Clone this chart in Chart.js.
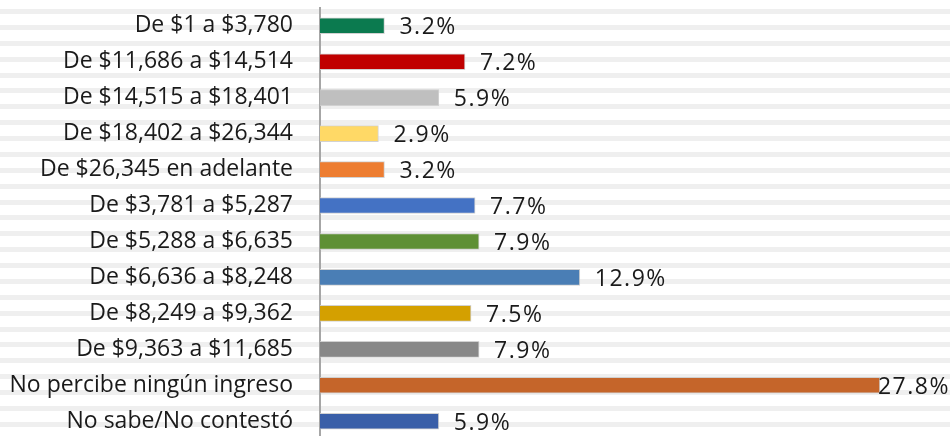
<!DOCTYPE html>
<html>
<head>
<meta charset="utf-8">
<script src="https://cdn.jsdelivr.net/npm/chart.js"></script>
<style>
  html, body { margin: 0; padding: 0; background: #fff; overflow: hidden; height: 436px; }
  #wrap { width: 950px; height: 459px; margin-top: -6px; position: relative; }
</style>
</head>
<body>
<div id="wrap"><canvas id="ingresoChart" width="950" height="459"></canvas></div>
<script>
// Ingreso mensual: rangos y porcentajes
var categories = [
  'De $1 a $3,780',
  'De $11,686 a $14,514',
  'De $14,515 a $18,401',
  'De $18,402 a $26,344',
  'De $26,345 en adelante',
  'De $3,781 a $5,287',
  'De $5,288 a $6,635',
  'De $6,636 a $8,248',
  'De $8,249 a $9,362',
  'De $9,363 a $11,685',
  'No percibe ningún ingreso',
  'No sabe/No contestó'
];
var percentages = [3.2, 7.2, 5.9, 2.9, 3.2, 7.7, 7.9, 12.9, 7.5, 7.9, 27.8, 5.9];
var barColors = ['#0b7a4f', '#c00000', '#bfbfbf', '#ffd966', '#ed7d31', '#4472c4',
                 '#5e9035', '#4a7eb5', '#d4a000', '#888888', '#c5652a', '#3a5fa8'];

var FONT = '"Open Sans", Lato, sans-serif';

// striped background like the Excel pattern fill (canvas is shifted up 6px)
var stripes = {
  id: 'stripes',
  beforeDraw: function (chart) {
    var ctx = chart.ctx;
    ctx.save();
    ctx.fillStyle = '#efefef';
    for (var y = 15; y < chart.height; y += 15.88) {
      ctx.fillRect(0, Math.round(y), chart.width, 5);
    }
    ctx.restore();
  }
};

// percentage labels to the right of each bar
var valueLabels = {
  id: 'valueLabels',
  afterDatasetsDraw: function (chart) {
    var ctx = chart.ctx;
    var meta = chart.getDatasetMeta(0);
    ctx.save();
    ctx.font = '23px ' + FONT;
    ctx.letterSpacing = '1.5px';
    ctx.fillStyle = '#1a1a1a';
    ctx.textBaseline = 'middle';
    ctx.textAlign = 'left';
    meta.data.forEach(function (bar, i) {
      var text = percentages[i].toFixed(1) + '%';
      var w = ctx.measureText(text).width;
      var x = bar.x + 15;
      // no room on the right: start the label at the bar end
      if (x + w > chart.width - 2) x = bar.x - 2;
      ctx.fillText(text, x, bar.y + 2);
    });
    ctx.restore();
  }
};

new Chart(document.getElementById('ingresoChart').getContext('2d'), {
  type: 'bar',
  data: {
    labels: categories,
    datasets: [{
      data: percentages,
      backgroundColor: barColors,
      borderColor: 'rgba(205,205,205,0.9)',
      borderWidth: 1,
      barThickness: 16
    }]
  },
  plugins: [stripes, valueLabels],
  options: {
    indexAxis: 'y',
    responsive: false,
    animation: false,
    layout: { padding: 0 },
    plugins: {
      legend: { display: false },
      tooltip: { enabled: false }
    },
    scales: {
      x: {
        display: false,
        min: 0,
        max: 31.28
      },
      y: {
        afterFit: function (scale) { scale.width = 320; },
        grid: {
          display: true,
          drawOnChartArea: false,
          drawTicks: true,
          tickLength: 27,
          tickColor: 'rgba(0,0,0,0)'
        },
        border: { display: true, color: '#a6a6a6', width: 2 },
        ticks: {
          padding: 0,
          color: '#1a1a1a',
          font: { family: FONT, size: 23 }
        }
      }
    }
  }
});
</script>
</body>
</html>
